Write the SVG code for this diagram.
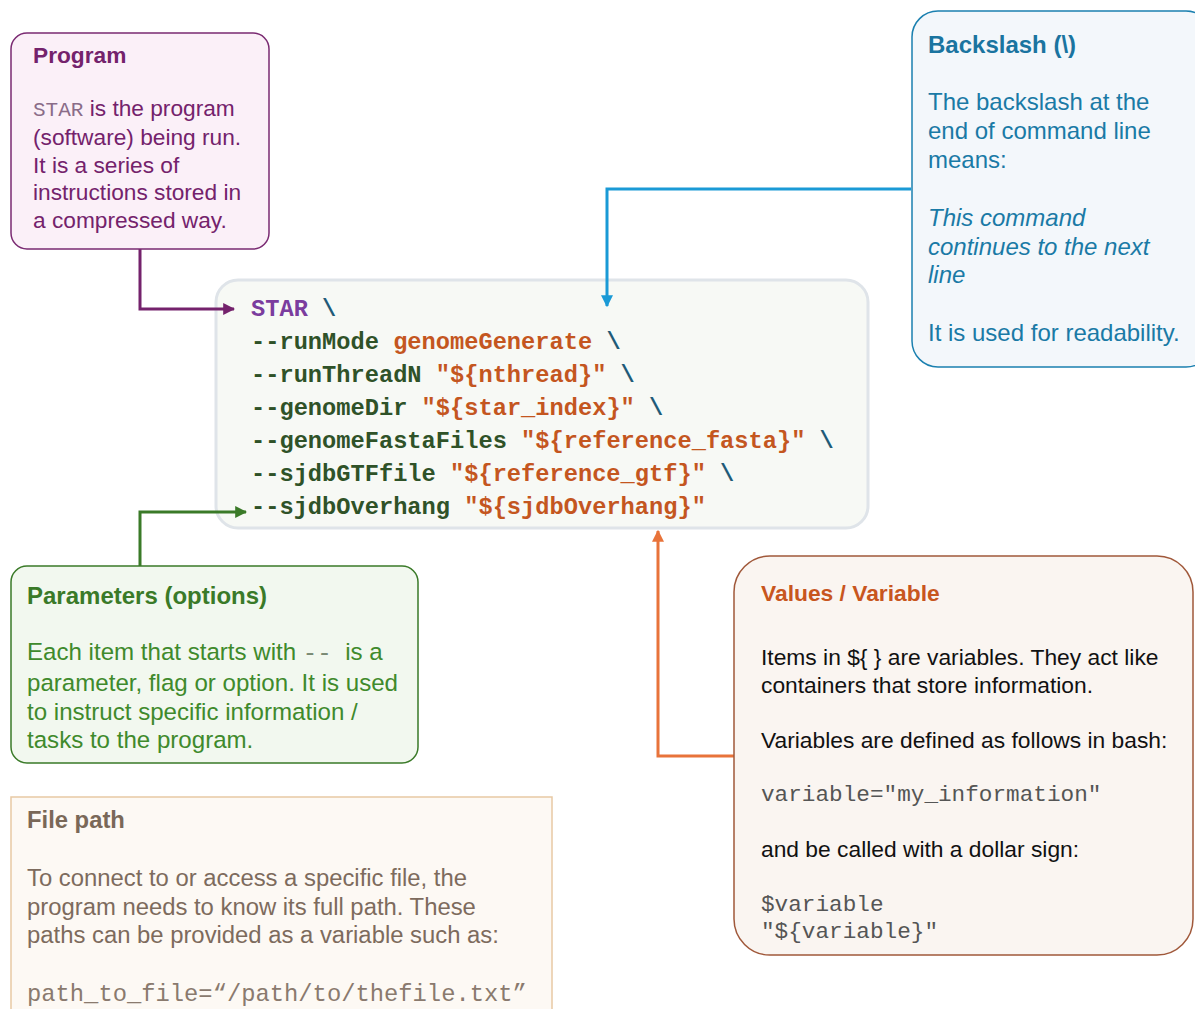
<svg xmlns="http://www.w3.org/2000/svg" width="1195" height="1009" viewBox="0 0 1195 1009">
<style>
.sans{font-family:"Liberation Sans",Arial,sans-serif}
.mono{font-family:"Liberation Mono","Courier New",monospace}
.b{font-weight:bold}
.code{font-family:"Liberation Mono","Courier New",monospace;font-weight:bold;font-size:23.7px}
.kw{fill:#2f5228}
.val{fill:#c4561f}
.bs{fill:#1f5b78}
.conn{fill:none;stroke-width:3}
</style>
<defs>
<marker id="mP" viewBox="0 0 10 10" refX="9" refY="5" markerWidth="4" markerHeight="4" orient="auto" markerUnits="strokeWidth"><path d="M0,0 L10,5 L0,10 z" fill="#74226c"/></marker>
<marker id="mB" viewBox="0 0 10 10" refX="9" refY="5" markerWidth="4" markerHeight="4" orient="auto" markerUnits="strokeWidth"><path d="M0,0 L10,5 L0,10 z" fill="#1a9ad6"/></marker>
<marker id="mG" viewBox="0 0 10 10" refX="9" refY="5" markerWidth="4" markerHeight="4" orient="auto" markerUnits="strokeWidth"><path d="M0,0 L10,5 L0,10 z" fill="#3a7a28"/></marker>
<marker id="mO" viewBox="0 0 10 10" refX="9" refY="5" markerWidth="4" markerHeight="4" orient="auto" markerUnits="strokeWidth"><path d="M0,0 L10,5 L0,10 z" fill="#e8733a"/></marker>
</defs>
<rect width="1195" height="1009" fill="#ffffff"/>

<g id="code">
<rect x="216" y="280" width="652" height="248" rx="22" fill="#f7f9f5" stroke="#dfe4e9" stroke-width="3"/>
<text class="code" x="251" y="316"><tspan fill="#7b3d9e">STAR</tspan><tspan class="bs"> \</tspan></text>
<text class="code" x="251" y="349" xml:space="preserve"><tspan class="kw">--runMode</tspan><tspan class="val"> genomeGenerate</tspan><tspan class="bs"> \</tspan></text>
<text class="code" x="251" y="382" xml:space="preserve"><tspan class="kw">--runThreadN</tspan><tspan class="val"> "${nthread}"</tspan><tspan class="bs"> \</tspan></text>
<text class="code" x="251" y="415" xml:space="preserve"><tspan class="kw">--genomeDir</tspan><tspan class="val"> "${star_index}"</tspan><tspan class="bs"> \</tspan></text>
<text class="code" x="251" y="448" xml:space="preserve"><tspan class="kw">--genomeFastaFiles</tspan><tspan class="val"> "${reference_fasta}"</tspan><tspan class="bs"> \</tspan></text>
<text class="code" x="251" y="481" xml:space="preserve"><tspan class="kw">--sjdbGTFfile</tspan><tspan class="val"> "${reference_gtf}"</tspan><tspan class="bs"> \</tspan></text>
<text class="code" x="251" y="514" xml:space="preserve"><tspan class="kw">--sjdbOverhang</tspan><tspan class="val"> "${sjdbOverhang}"</tspan></text>
</g>

<g id="connectors">
<path class="conn" d="M140,249 V309 H234" stroke="#74226c" marker-end="url(#mP)"/>
<path class="conn" d="M911,189 H607 V306" stroke="#1a9ad6" marker-end="url(#mB)"/>
<path class="conn" d="M140,566 V512 H246" stroke="#3a7a28" marker-end="url(#mG)"/>
<path class="conn" d="M734,756 H658 V531" stroke="#e8733a" marker-end="url(#mO)"/>
</g>

<g id="program">
<rect x="11" y="33" width="258" height="216" rx="16" fill="#fbf0f8" stroke="#7a2a72" stroke-width="1.5"/>
<text class="sans b" x="33" y="63" font-size="22.7" fill="#74226c">Program</text>
<g class="sans" font-size="22.7" fill="#74226c">
<text x="33" y="116"><tspan class="mono" fill="#8a6c88" font-size="21">STAR</tspan> is the program</text>
<text x="33" y="145">(software) being run.</text>
<text x="33" y="173">It is a series of</text>
<text x="33" y="200">instructions stored in</text>
<text x="33" y="228">a compressed way.</text>
</g>
</g>

<g id="backslash">
<rect x="912" y="11" width="300" height="356" rx="26" fill="#f3f7fb" stroke="#1b80b0" stroke-width="1.5"/>
<text class="sans b" x="928" y="53" font-size="24" fill="#1a74a0">Backslash (\)</text>
<g class="sans" font-size="24" fill="#1a7aa6">
<text x="928" y="110">The backslash at the</text>
<text x="928" y="139">end of command line</text>
<text x="928" y="168">means:</text>
<text x="928" y="226" font-style="italic">This command</text>
<text x="928" y="255" font-style="italic">continues to the next</text>
<text x="928" y="283" font-style="italic">line</text>
<text x="928" y="341">It is used for readability.</text>
</g>
</g>

<g id="parameters">
<rect x="11" y="566" width="407" height="197" rx="16" fill="#f2f8ef" stroke="#3a7a28" stroke-width="1.5"/>
<text class="sans b" x="27" y="604" font-size="24" fill="#3a7a28">Parameters (options)</text>
<g class="sans" font-size="24.1" fill="#3f8a2c">
<text x="27" y="660" xml:space="preserve">Each item that starts with <tspan class="mono" fill="#7a8a74">--</tspan>  is a</text>
<text x="27" y="691">parameter, flag or option. It is used</text>
<text x="27" y="720">to instruct specific information /</text>
<text x="27" y="748">tasks to the program.</text>
</g>
</g>

<g id="values">
<rect x="734" y="556" width="459" height="399" rx="36" fill="#faf5f1" stroke="#a0583a" stroke-width="1.5"/>
<text class="sans b" x="761" y="601" font-size="22.8" fill="#c8561e">Values / Variable</text>
<g class="sans" font-size="22.8" fill="#111111">
<text x="761" y="665">Items in ${ } are variables. They act like</text>
<text x="761" y="693">containers that store information.</text>
<text x="761" y="748">Variables are defined as follows in bash:</text>
<text x="761" y="857">and be called with a dollar sign:</text>
</g>
<g class="mono" font-size="22.7" fill="#555555">
<text x="761" y="801">variable="my_information"</text>
<text x="761" y="911">$variable</text>
<text x="761" y="938">"${variable}"</text>
</g>
</g>

<g id="filepath">
<rect x="11" y="797" width="541" height="240" fill="#fdf9f4" stroke="#e8c9a4" stroke-width="1.5"/>
<text class="sans b" x="27" y="828" font-size="23.8" fill="#7a6858">File path</text>
<g class="sans" font-size="23.85" fill="#7d6b5d">
<text x="27" y="886">To connect to or access a specific file, the</text>
<text x="27" y="915">program needs to know its full path. These</text>
<text x="27" y="943">paths can be provided as a variable such as:</text>
</g>
<text class="mono" x="27" y="1001" font-size="23.8" fill="#8a7a6e">path_to_file=“/path/to/thefile.txt”</text>
</g>
</svg>
